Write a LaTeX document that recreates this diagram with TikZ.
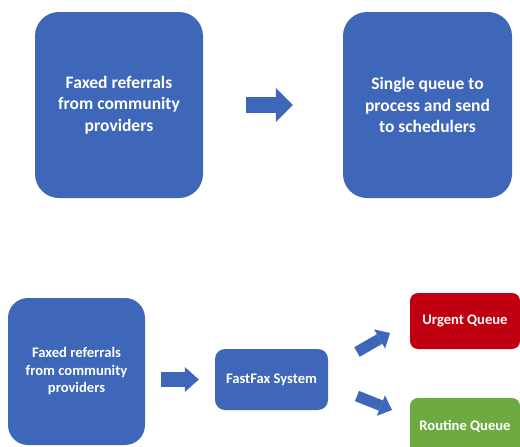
\documentclass[tikz,border=0pt]{standalone}
\usepackage{fontspec}
\setmainfont{Carlito}
\usetikzlibrary{arrows.meta}
\definecolor{boxblue}{RGB}{62,103,185}
\definecolor{boxred}{RGB}{192,0,16}
\definecolor{boxgreen}{RGB}{110,170,66}
\tikzset{
  card/.style={fill=#1, draw=none, text=white, align=center, inner sep=0pt},
  bigtext/.style={font=\bfseries\fontsize{17.5}{21.5}\selectfont},
  smalltext/.style={font=\bfseries\fontsize{14.6}{17.5}\selectfont},
  bigarrow/.style={draw=boxblue, line width=16pt, -{Triangle[length=17pt 0 0, width=34pt 0 0, line width=0pt 0 0]}},
  midarrow/.style={draw=boxblue, line width=15pt, -{Triangle[length=14pt 0 0, width=25pt 0 0, line width=0pt 0 0]}},
  smallarrow/.style={draw=boxblue, line width=11pt, -{Triangle[length=12pt 0 0, width=22pt 0 0, line width=0pt 0 0]}}
}
\begin{document}
\begin{tikzpicture}[x=1pt,y=-1pt]
\useasboundingbox (0,0) rectangle (520,447);
\begin{scope}
\clip (0,0) rectangle (520,447);
\node[card=boxblue, bigtext, minimum width=168pt, minimum height=186pt, rounded corners=24pt] (A) at (119,105) {Faxed referrals\\from community\\providers};
\node[card=boxblue, bigtext, minimum width=169pt, minimum height=186pt, rounded corners=24pt] (B) at (427.5,105) {Single queue to\\process and send\\to schedulers};
\node[card=boxblue, smalltext, minimum width=137pt, minimum height=147pt, rounded corners=20pt] (C) at (76.5,371.5) {Faxed referrals\\from community\\providers};
\node[card=boxblue, smalltext, minimum width=113pt, minimum height=61pt, rounded corners=10pt] (D) at (271.5,379.5) {FastFax System};
\node[card=boxred, smalltext, minimum width=110pt, minimum height=56pt, rounded corners=8pt] (E) at (465,321) {Urgent Queue};
\node[card=boxgreen, smalltext, minimum width=110pt, minimum height=56pt, rounded corners=8pt] (F) at (465,426) {Routine Queue};
\end{scope}
\draw[bigarrow, shorten <=43pt, shorten >=50pt] (A.east) -- (B.west);
\draw[midarrow, shorten <=16pt, shorten >=16pt] (C.east |- D.west) -- (D.west);
\coordinate (u1) at (357,352);
\coordinate (u2) at (390,333);
\coordinate (l1) at (357,396);
\coordinate (l2) at (392,410);
\draw[smallarrow] (u1) -- (u2);
\draw[smallarrow] (l1) -- (l2);
\end{tikzpicture}
\end{document}
